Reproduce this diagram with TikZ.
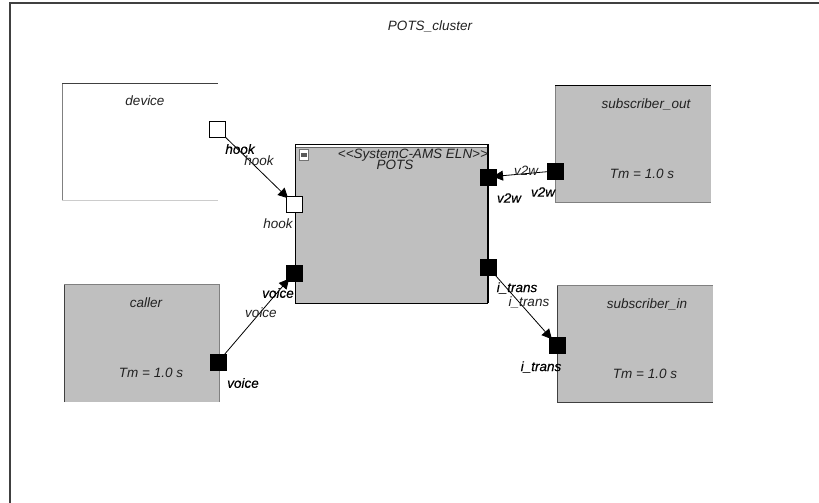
\documentclass[tikz,border=0pt]{standalone}
\usepackage{fontspec}
\setmainfont{Liberation Sans}
\usetikzlibrary{arrows.meta,calc}
\definecolor{boxgray}{HTML}{BFBFBF}
\definecolor{txt}{HTML}{222222}
\newfontfamily\boldishfont{Liberation Sans}[FakeBold=0.25]
\pgfdeclarelayer{blocks}
\pgfdeclarelayer{conns}
\pgfsetlayers{blocks,conns,main}
\tikzset{
  x=1pt,y=-1pt,
  block/.style={anchor=north west,inner sep=0,outer sep=0,fill=boxgray},
  blockw/.style={block,fill=white},
  port/.style={rectangle,minimum size=16pt,inner sep=0,outer sep=0,draw=black,line width=0.8pt},
  portw/.style={port,fill=white},
  portb/.style={port,fill=black},
  lbl/.style={font=\fontsize{13.5}{15}\selectfont\itshape,text=txt,inner sep=0},
  plbl/.style={font=\fontsize{13.5}{15}\boldishfont\itshape,text=black,inner sep=0},
  conn/.style={draw=black,line width=0.8pt,shorten >=-3pt,-{Triangle[length=10pt,width=10pt]}},
  plain/.style={draw=black,line width=0.8pt},
  dark/.style={draw=black!75,line width=0.9pt},
  soft/.style={draw=black!50,line width=0.9pt},
  pale/.style={draw=black!20,line width=0.9pt}
}
\begin{document}
\begin{tikzpicture}
\useasboundingbox (0,0) rectangle (819,503);
\begin{pgfonlayer}{blocks}
\fill[white] (0,0) rectangle (819,503);
% cluster frame
\coordinate (fbl) at (10,503);
\coordinate (ftl) at (10,3);
\coordinate (ftr) at (819,3);
\draw[dark,line width=1.1pt] (fbl) -- (ftl) -- (ftr);

% blocks
\node[blockw,minimum width=156pt,minimum height=117pt] (device) at (62,83) {};
\draw[soft] (device.south west) -- (device.north west);
\draw[dark] (device.north west) -- (device.north east);
\draw[pale] (device.south west) -- (device.south east);

\node[block,minimum width=155pt,minimum height=118pt] (caller) at (64,284) {};
\draw[dark] (caller.south west) -- (caller.north west);
\draw[soft] (caller.north west) -- (caller.north east) -- (caller.south east);

\node[block,minimum width=156pt,minimum height=117pt] (subout) at (555,85.5) {};
\draw[soft] (subout.north west) -- (subout.south west) -- (subout.south east);
\draw[plain] (subout.north west) -- (subout.north east);

\node[block,minimum width=156pt,minimum height=117pt] (subin) at (557,285.5) {};
\draw[soft] (subin.north west) -- (subin.north east);
\draw[dark] (subin.north west) -- (subin.south west);
\draw[dark] (subin.south west) -- (subin.south east);

% POTS component
\node[block,minimum width=193pt,minimum height=159pt] (pots) at (295,144) {};
\fill[white] (pots.north west) rectangle ($(pots.north east)+(0,3)$);
\draw[plain,line width=1pt] (pots.north west) -- (pots.north east);
\draw[draw=black!60,line width=0.8pt] ($(pots.north west)+(0,3)$) -- ($(pots.north east)+(0,3)$);
\draw[plain,line width=1pt] (pots.north west) -- (pots.south west) -- (pots.south east);
\draw[plain,line width=2pt] (pots.north east) -- (pots.south east);
\node[rectangle,draw=black!55,fill=white,line width=0.7pt,minimum width=9.5pt,minimum height=10.5pt,inner sep=0] (icon) at (304,155) {};
\fill[black!65] ($(icon.center)+(-3,-2)$) rectangle ($(icon.center)+(3,2)$);
\end{pgfonlayer}

\node[lbl] (clustertitle) at (430,26) {POTS\_cluster};
\node[lbl] (devicet) at (145,101) {device};
\node[lbl] (callert) at (146,303) {caller};
\node[lbl] (callertm) at (151,373) {Tm = 1.0 s};
\node[lbl] (subouttt) at (646,104) {subscriber\_out};
\node[lbl] (subouttm) at (642,174) {Tm = 1.0 s};
\node[lbl] (subintt) at (647,304) {subscriber\_in};
\node[lbl] (subintm) at (645,374) {Tm = 1.0 s};
\node[lbl] (potsst) at (413,155) {<{}<SystemC-AMS ELN>{}>};
\node[lbl] (potsname) at (395,165) {POTS};

% ports
\node[portw] (phookd) at (217,129) {};
\node[portw] (phookp) at (294,204) {};
\node[portb] (pvoicep) at (294,273) {};
\node[portb] (pvoicec) at (218,362) {};
\node[portb] (pv2wp) at (488,177) {};
\node[portb] (pv2ws) at (555,171) {};
\node[portb] (pitp) at (488,267) {};
\node[portb] (pits) at (557,345) {};

% connectors
\begin{pgfonlayer}{conns}
\draw[conn] (phookd) -- (phookp);
\draw[conn] (pvoicec) -- (pvoicep);
\draw[conn] (pv2ws) -- (pv2wp);
\draw[conn] (pitp) -- (pits);
\end{pgfonlayer}

% labels
\node[plbl] (l1) at (240,149) {hook};
\node[lbl] (l2) at (259,161) {hook};
\node[lbl] (l3) at (278,224) {hook};
\node[plbl] (l4) at (278,293) {voice};
\node[lbl] (l5) at (261,313) {voice};
\node[plbl] (l6) at (243,383) {voice};
\node[lbl] (l7) at (526,171) {v2w};
\node[plbl] (l8) at (543,192) {v2w};
\node[plbl] (l9) at (509,198) {v2w};
\node[plbl] (l10) at (517,288) {i\_trans};
\node[lbl] (l11) at (529,302) {i\_trans};
\node[plbl] (l12) at (541,367) {i\_trans};
\end{tikzpicture}
\end{document}
